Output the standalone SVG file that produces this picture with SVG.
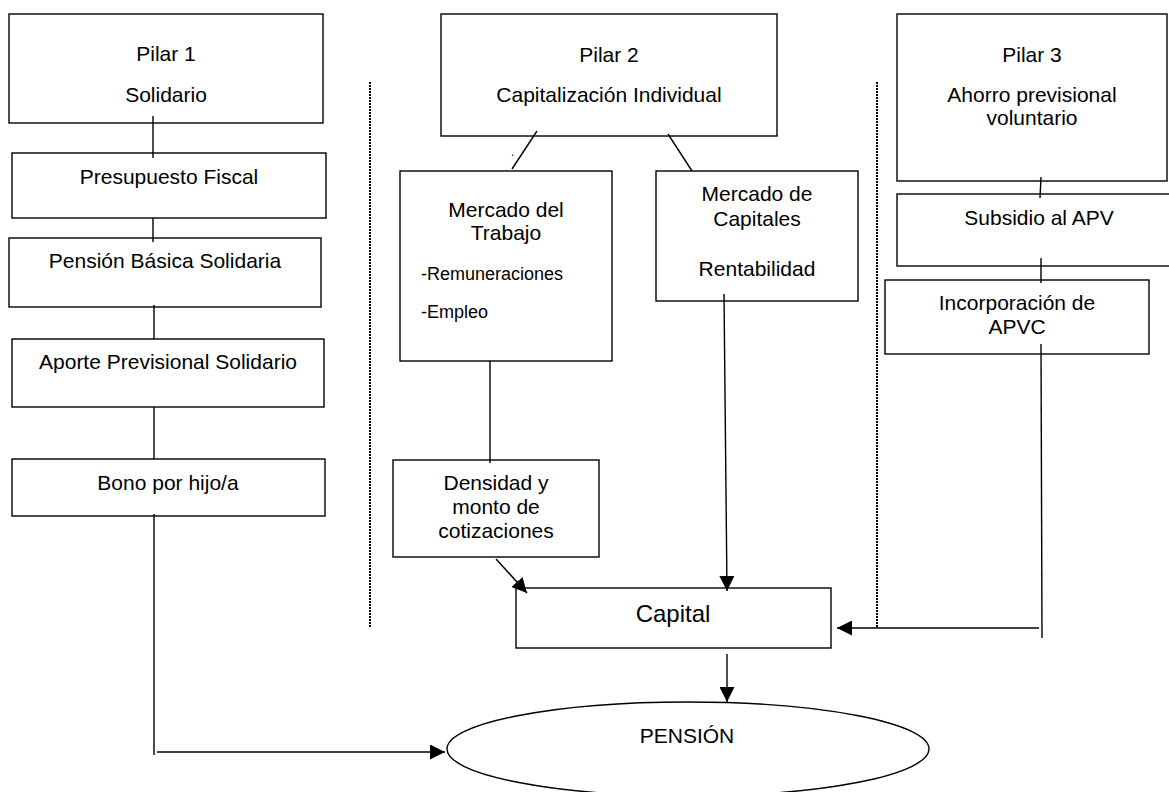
<svg xmlns="http://www.w3.org/2000/svg" width="1169" height="792" viewBox="0 0 1169 792">
<style>
.box{fill:#fff;stroke:#000;stroke-width:1.4}
.t{font-family:"Liberation Sans",Arial,sans-serif;font-size:21px;fill:#000;text-anchor:middle}
.s{font-family:"Liberation Sans",Arial,sans-serif;font-size:18px;fill:#000}
.c{fill:none;stroke:#000;stroke-width:1.4}
.dot{fill:none;stroke:#000;stroke-width:2;stroke-dasharray:2 1}
</style>
<defs>
<marker id="ah" markerUnits="userSpaceOnUse" markerWidth="15" markerHeight="15" refX="15" refY="7.5" orient="auto">
<path d="M0,0 L15,7.5 L0,15 z" fill="#000"/>
</marker>
</defs>
<rect width="1169" height="792" fill="#fff"/>
<g id="separators">
<line class="dot" x1="370" y1="82" x2="370" y2="628"/>
<line class="dot" x1="877" y1="82" x2="877" y2="628"/>
</g>
<g id="pilar1">
<rect class="box" x="9" y="14" width="314" height="109"/>
<text class="t" x="166" y="61">Pilar 1</text>
<text class="t" x="166" y="102">Solidario</text>
</g>
<g id="presupuesto">
<rect class="box" x="12" y="153" width="314" height="65"/>
<text class="t" x="169" y="184">Presupuesto Fiscal</text>
</g>
<g id="pbs">
<rect class="box" x="9" y="238" width="312" height="69"/>
<text class="t" x="165" y="268">Pensión Básica Solidaria</text>
</g>
<g id="aps">
<rect class="box" x="12" y="339" width="312" height="68"/>
<text class="t" x="168" y="369">Aporte Previsional Solidario</text>
</g>
<g id="bono">
<rect class="box" x="12" y="459" width="313" height="57"/>
<text class="t" x="168" y="490">Bono por hijo/a</text>
</g>
<g id="pilar2">
<rect class="box" x="441" y="14" width="336" height="122"/>
<text class="t" x="609" y="62">Pilar 2</text>
<text class="t" x="609" y="102">Capitalización Individual</text>
</g>
<g id="trabajo">
<rect class="box" x="400" y="171" width="212" height="190"/>
<text class="t" x="506" y="217">Mercado del</text>
<text class="t" x="506" y="240">Trabajo</text>
<text class="s" x="421" y="280">-Remuneraciones</text>
<text class="s" x="421" y="318">-Empleo</text>
</g>
<g id="capitales">
<rect class="box" x="656" y="171" width="202" height="130"/>
<text class="t" x="757" y="201">Mercado de</text>
<text class="t" x="757" y="226">Capitales</text>
<text class="t" x="757" y="276">Rentabilidad</text>
</g>
<g id="densidad">
<rect class="box" x="393" y="460" width="206" height="97"/>
<text class="t" x="496" y="490">Densidad y</text>
<text class="t" x="496" y="514">monto de</text>
<text class="t" x="496" y="538">cotizaciones</text>
</g>
<g id="pilar3">
<rect class="box" x="897" y="14" width="270" height="167"/>
<text class="t" x="1032" y="62">Pilar 3</text>
<text class="t" x="1032" y="102">Ahorro previsional</text>
<text class="t" x="1032" y="125">voluntario</text>
</g>
<g id="subsidio">
<rect class="box" x="897" y="194" width="284" height="72"/>
<text class="t" x="1039" y="225">Subsidio al APV</text>
</g>
<g id="apvc">
<rect class="box" x="885" y="280" width="264" height="74"/>
<text class="t" x="1017" y="310">Incorporación de</text>
<text class="t" x="1017" y="334">APVC</text>
</g>
<g id="capital">
<rect class="box" x="516" y="588" width="315" height="60"/>
<text class="t" x="673" y="622" style="font-size:24px">Capital</text>
</g>
<g id="pension">
<ellipse class="box" cx="688" cy="749" rx="241" ry="47"/>
<text class="t" x="687" y="743">PENSIÓN</text>
</g>
<g id="connectors">
<line class="c" x1="153" y1="116" x2="153" y2="158"/>
<line class="c" x1="153" y1="218" x2="153" y2="242"/>
<line class="c" x1="154" y1="305" x2="154" y2="339"/>
<line class="c" x1="154" y1="407" x2="154" y2="459"/>
<line class="c" x1="154" y1="514" x2="154" y2="755"/>
<line class="c" x1="157" y1="752" x2="445" y2="752" marker-end="url(#ah)"/>
<line class="c" x1="537" y1="131" x2="512" y2="169"/>
<text x="511" y="156" style="font-family:'Liberation Sans',Arial,sans-serif;font-size:12px">.</text>
<line class="c" x1="668" y1="134" x2="692" y2="171"/>
<line class="c" x1="490" y1="361" x2="490" y2="463"/>
<line class="c" x1="724" y1="294" x2="727" y2="591" marker-end="url(#ah)"/>
<line class="c" x1="496" y1="559" x2="527" y2="593" marker-end="url(#ah)"/>
<line class="c" x1="727" y1="654" x2="727" y2="702" marker-end="url(#ah)"/>
<line class="c" x1="1041" y1="177" x2="1040" y2="198"/>
<line class="c" x1="1041" y1="258" x2="1041" y2="283"/>
<line class="c" x1="1041" y1="344" x2="1042" y2="638"/>
<line class="c" x1="1039" y1="628" x2="837" y2="628" marker-end="url(#ah)"/>
</g>
</svg>
